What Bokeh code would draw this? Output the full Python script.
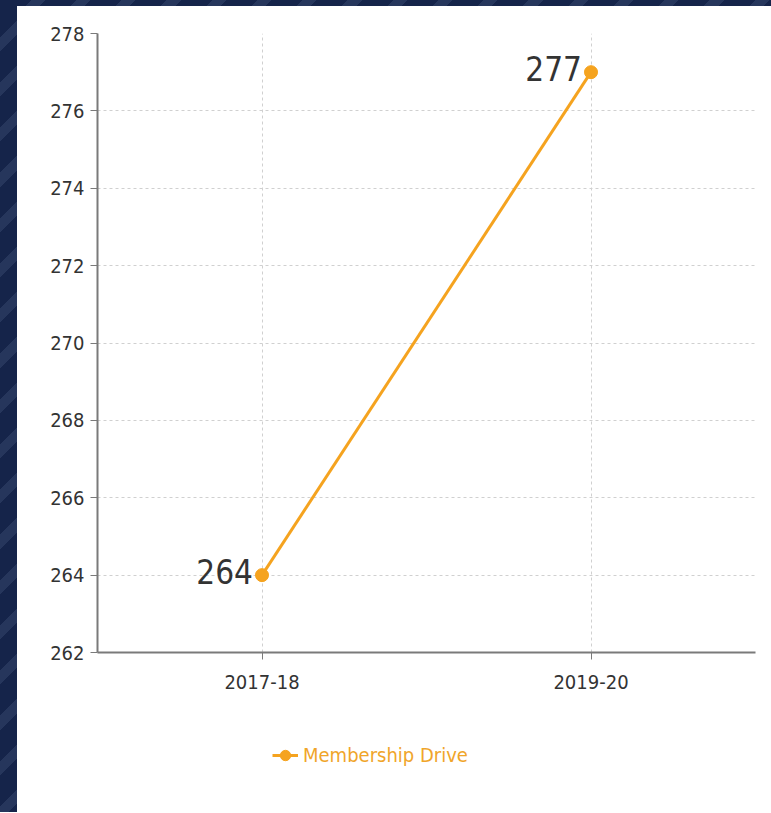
from bokeh.plotting import figure
from bokeh.models import (FactorRange, Range1d, SingleIntervalTicker, Legend, LegendItem,
                          ColumnDataSource, Div)
from bokeh.layouts import row, column
from bokeh.embed import file_html
from bokeh.resources import INLINE

categories = ["2017-18", "2019-20"]
values = [264, 277]
labels = ["264", "277"]
series_name = "Membership Drive"

FONT = "DejaVu Sans Condensed"
ORANGE = "#F5A31F"
STRIPES = "repeating-linear-gradient(135deg, #15244a 0px, #15244a 22px, #26365c 22px, #26365c 32px)"

src = ColumnDataSource(data=dict(x=categories, y=values, label=labels))

p = figure(x_range=FactorRange(*categories, range_padding=0), y_range=Range1d(262, 278),
           width=754, height=700, output_backend="svg", toolbar_location=None,
           min_border_left=80, min_border_right=16, min_border_top=27, min_border_bottom=54)
p.outline_line_color = None
p.background_fill_color = "white"
p.border_fill_color = "white"

line_r = p.line("x", "y", source=src, line_color=ORANGE, line_width=3)
pt_r = p.scatter("x", "y", source=src, size=13, fill_color=ORANGE, line_color=ORANGE)
p.text("x", "y", text="label", source=src, text_align="right", text_baseline="middle",
       x_offset=-9, y_offset=-4, text_font_size="33px", text_color="#333333",
       text_font={"value": FONT})

p.yaxis.ticker = SingleIntervalTicker(interval=2)
for ax in (p.xaxis[0], p.yaxis[0]):
    ax.axis_line_color = "#7a7a7a"
    ax.axis_line_width = 2
    ax.major_tick_line_color = "#7a7a7a"
    ax.major_tick_out = 7
    ax.major_tick_in = 0
    ax.minor_tick_line_color = None
    ax.major_label_text_font = FONT
    ax.major_label_text_color = "#333333"
p.yaxis.major_label_standoff = 6
p.xaxis.major_label_standoff = 15
p.yaxis.major_label_text_font_size = "20px"
p.xaxis.major_label_text_font_size = "20px"

p.xgrid.grid_line_color = "#d0d0d0"
p.xgrid.grid_line_dash = "3 3"
p.ygrid.grid_line_color = "#d0d0d0"
p.ygrid.grid_line_dash = "3 3"

# legend strip below the chart (series glyphs drawn out of view, shown only in the legend)
lg = figure(width=754, height=106, output_backend="svg", toolbar_location=None,
            x_range=Range1d(0, 1), y_range=Range1d(0, 1),
            min_border_left=0, min_border_right=0, min_border_top=0, min_border_bottom=0)
lg.axis.visible = False
lg.grid.visible = False
lg.outline_line_color = None
lg.border_fill_color = "white"
lg_src = ColumnDataSource(data=dict(x=[-5, -4], y=[-5, -4]))
lg_line = lg.line("x", "y", source=lg_src, line_color=ORANGE, line_width=3)
lg_pt = lg.scatter("x", "y", source=lg_src, size=13, fill_color=ORANGE, line_color=ORANGE)

legend = Legend(items=[LegendItem(label=series_name, renderers=[lg_line, lg_pt])],
                location=(175, 42), orientation="horizontal", margin=0, padding=5,
                label_text_font=FONT, label_text_font_size="20px", label_text_color="#F0A52A",
                glyph_width=26, glyph_height=30, label_standoff=5,
                background_fill_alpha=0, border_line_color=None)
lg.add_layout(legend, "center")

top_band = Div(width=771, height=6, margin=0, styles={"background": STRIPES})
side_band = Div(width=17, height=806, margin=0, styles={"background": STRIPES})

layout = column(top_band, row(side_band, column(p, lg, spacing=0), spacing=0), spacing=0)

open("out.html", "w").write(file_html(layout, INLINE))
